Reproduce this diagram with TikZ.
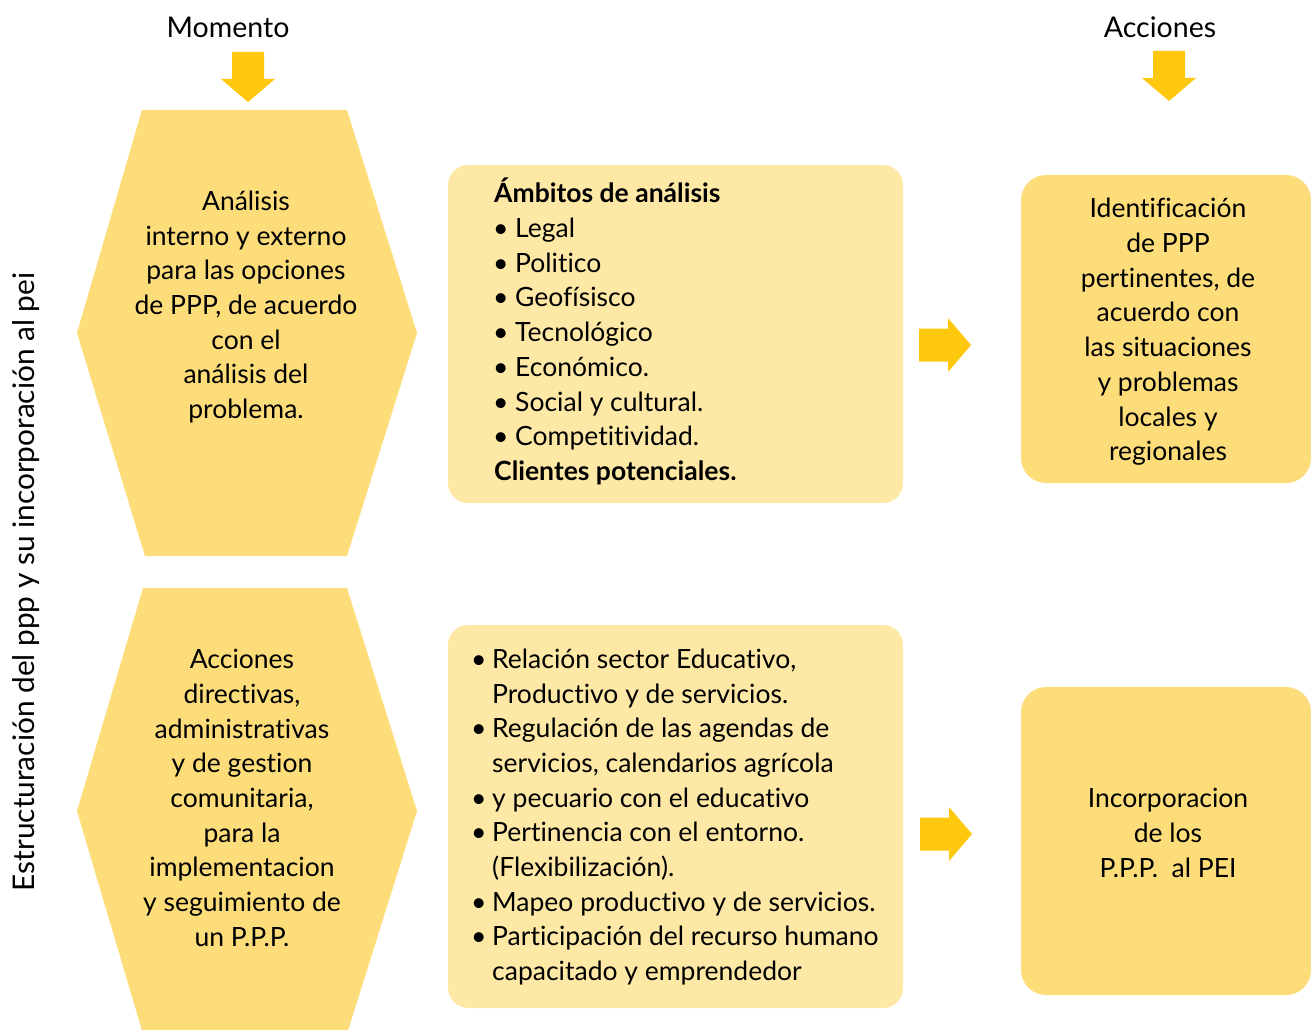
\documentclass[tikz,border=0pt]{standalone}
\usepackage{fontspec}
\setmainfont{Lato}[Ligatures=NoCommon]
\definecolor{hexc}{HTML}{FDDC7A}
\definecolor{midc}{HTML}{FEE8A5}
\definecolor{arrc}{HTML}{FEC80E}
\newcommand{\bul}[1][19pt]{\makebox[#1][l]{\hspace*{-3pt}•}}
\begin{document}
\begin{tikzpicture}[x=1pt,y=-1pt,
  txt/.style={font=\fontsize{26.5}{34.7}\selectfont, inner sep=0pt, text=black},
  head/.style={font=\fontsize{28.5}{34}\selectfont, inner sep=0pt, text=black},
  boxmid/.style={fill=midc, rounded corners=20pt, minimum width=455pt, inner sep=0pt},
  boxright/.style={fill=hexc, rounded corners=25pt, minimum width=290pt, minimum height=308pt, inner sep=0pt},
  hexfill/.style={fill=hexc},
  rarrow/.pic={\fill[arrc] (-52,-16.5) -- (-23,-16.5) -- (-23,-27) -- (0,0) -- (-23,27) -- (-23,16.5) -- (-52,16.5) -- cycle;},
  darrow/.pic={\fill[arrc] (-16,-50) -- (16,-50) -- (16,-23) -- (27,-23) -- (0,0) -- (-27,-23) -- (-16,-23) -- cycle;}
]
\useasboundingbox (0,0) rectangle (1311,1030);
% headers
\node[head] (momento) at (228,27) {Momento};
\node[head] (acciones) at (1160,27) {Acciones};
\pic at (248,102) {darrow};
\pic at (1169,101) {darrow};
% vertical title
\node[font=\fontsize{29.8}{34}\selectfont, inner sep=0pt, rotate=90] (titulo) at (26,582) {Estructuración del ppp y su incorporación al pei};
% hexagons
\fill[hexfill] (142,110) -- (347,110) -- (417,333) -- (347,556) -- (145,556) -- (77,333) -- cycle;
\fill[hexfill] (143,588) -- (347,588) -- (417,811) -- (347,1034) -- (143,1034) -- (77,811) -- cycle;
\node[txt, align=center] (hexa) at (246,307) {Análisis\\interno y externo\\para las opciones\\de PPP, de acuerdo\\con el\\análisis del\\problema.};
\node[txt, align=center] (hexb) at (242,798) {Acciones\\directivas,\\administrativas\\y de gestion\\comunitaria,\\para la\\implementacion\\y seguimiento de\\un P.P.P.};
% middle boxes
\node[boxmid, minimum height=338pt] (mida) at (675.5,334) {};
\node[boxmid, minimum height=383pt] (midb) at (675.5,816.5) {};
\node[txt, align=left, anchor=west] (midatxt) at (494,331.5) {\textbf{Ámbitos de análisis}\\
\hspace*{2pt}\bul Legal\\
\hspace*{2pt}\bul Politico\\
\hspace*{2pt}\bul Geofísisco\\
\hspace*{2pt}\bul Tecnológico\\
\hspace*{2pt}\bul Económico.\\
\hspace*{2pt}\bul Social y cultural.\\
\hspace*{2pt}\bul Competitividad.\\
\textbf{Clientes potenciales.}};
\node[txt, align=left, anchor=west] (midbtxt) at (474,817) {\bul[18pt]Relación sector Educativo,\\
\hspace*{18pt}Productivo y de servicios.\\
\bul[18pt]Regulación de las agendas de\\
\hspace*{18pt}servicios, calendarios agrícola\\
\bul[18pt]y pecuario con el educativo\\
\bul[18pt]Pertinencia con el entorno.\\
\hspace*{18pt}(Flexibilización).\\
\bul[18pt]Mapeo productivo y de servicios.\\
\bul[18pt]Participación del recurso humano\\
\hspace*{18pt}capacitado y emprendedor};
% right arrows
\pic at (971,345) {rarrow};
\pic at (972,834) {rarrow};
% right boxes
\node[boxright] (righta) at (1166,329) {};
\node[boxright] (rightb) at (1166,841) {};
\node[txt, align=center] (rightatxt) at (1168,332) {Identificación\\de PPP\\pertinentes, de\\acuerdo con\\las situaciones\\y problemas\\locales y\\regionales};
\node[txt, align=center] (rightbtxt) at (1168,833) {Incorporacion\\de los\\P.P.P.\ \ al PEI};
\end{tikzpicture}
\end{document}
